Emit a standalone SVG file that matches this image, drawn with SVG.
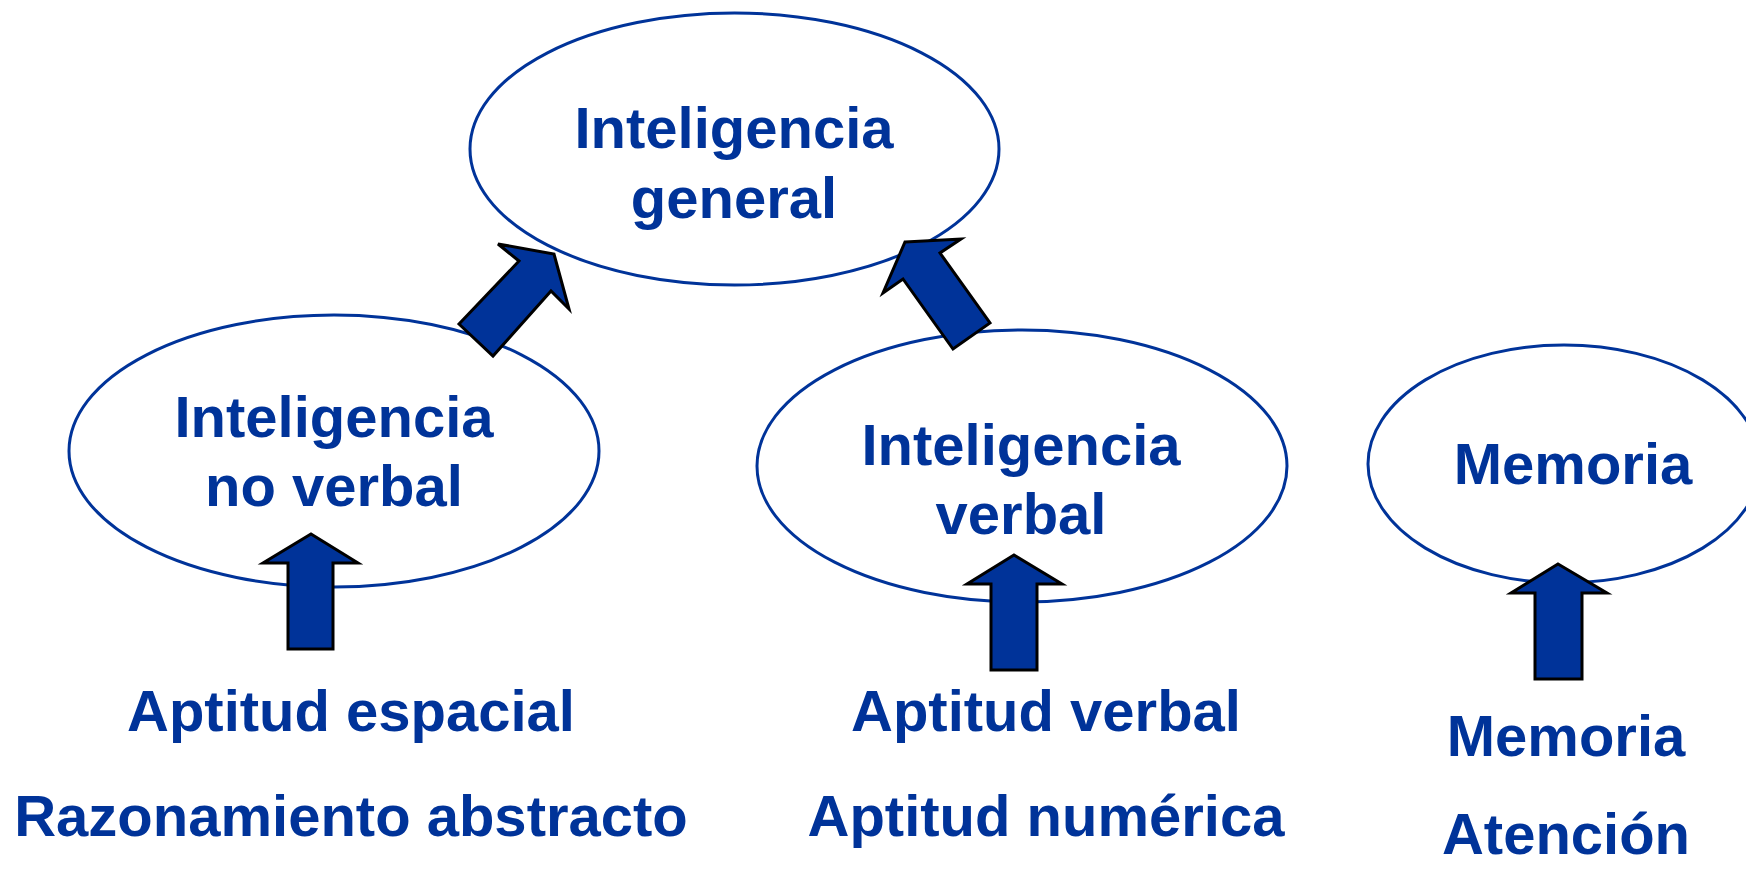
<svg xmlns="http://www.w3.org/2000/svg" width="1746" height="869" viewBox="0 0 1746 869">
<style>
.ell{fill:#ffffff;stroke:#003399;stroke-width:3}
.t{font-family:"Liberation Sans",Arial,sans-serif;font-weight:bold;font-size:58px;fill:#003399;text-anchor:middle}
.arr{fill:#003399;stroke:#000000;stroke-width:3;stroke-linejoin:miter}
</style>
<rect width="1746" height="869" fill="#ffffff"/>
<g id="node-general">
<ellipse class="ell" cx="734.5" cy="149" rx="264.5" ry="136"/>
<text class="t" x="734" y="148">Inteligencia</text>
<text class="t" x="734" y="218">general</text>
</g>
<g id="node-noverbal">
<ellipse class="ell" cx="334" cy="451" rx="265" ry="136"/>
<text class="t" x="334" y="437">Inteligencia</text>
<text class="t" x="334" y="506">no verbal</text>
</g>
<g id="node-verbal">
<ellipse class="ell" cx="1022" cy="466" rx="265" ry="136"/>
<text class="t" x="1021" y="465">Inteligencia</text>
<text class="t" x="1021" y="534">verbal</text>
</g>
<g id="node-memoria">
<ellipse class="ell" cx="1564" cy="464" rx="196" ry="119"/>
<text class="t" x="1573" y="484">Memoria</text>
</g>
<g id="label-noverbal">
<text class="t" x="351" y="731">Aptitud espacial</text>
<text class="t" x="351" y="836">Razonamiento abstracto</text>
</g>
<g id="label-verbal">
<text class="t" x="1046" y="731">Aptitud verbal</text>
<text class="t" x="1046" y="836">Aptitud numérica</text>
</g>
<g id="label-memoria">
<text class="t" x="1566" y="756">Memoria</text>
<text class="t" x="1566" y="854">Atención</text>
</g>
<g id="connectors">
<polygon class="arr" points="459,324 519,261 498,244 554,254 569,309 551,291 493,356"/>
<polygon class="arr" points="905,242 961,239 940,253 990,323 953,349 903,279 883,293"/>
<polygon class="arr" points="311,534 358,563 333,563 333,649 288,649 288,563 263,563"/>
<polygon class="arr" points="1014,555 1062,584 1037,584 1037,670 991,670 991,584 967,584"/>
<polygon class="arr" points="1558,564 1607,593 1582,593 1582,679 1535,679 1535,593 1511,593"/>
</g>
</svg>
